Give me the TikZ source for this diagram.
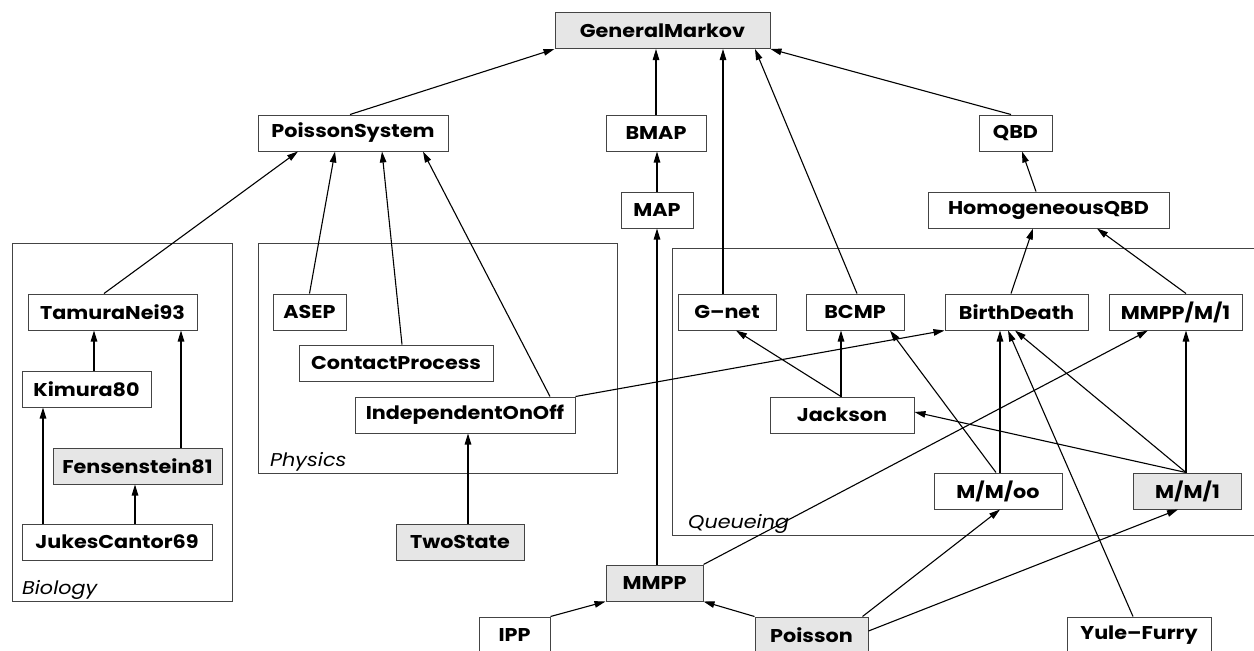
\documentclass[tikz,border=0pt]{standalone}
\usepackage{fontspec}
\setmainfont{Poppins}[FakeStretch=1.12]
\usetikzlibrary{arrows.meta}
\definecolor{nodegray}{HTML}{E6E6E6}
\definecolor{edgegray}{HTML}{444444}
\tikzset{
  box/.style={draw=edgegray, line width=1pt, minimum height=36pt, inner sep=0pt,
    font=\fontsize{18.5}{20}\selectfont\bfseries},
  gbox/.style={box, fill=nodegray},
  edge/.style={line width=1.1pt, -{Triangle[length=11pt,width=6.5pt]}},
  cluster/.style={draw=edgegray, line width=1pt},
  clabel/.style={font=\fontsize{18.5}{20}\selectfont\itshape, anchor=base west, inner sep=0pt}
}
\begin{document}
\begin{tikzpicture}[x=1pt,y=-1pt]
\useasboundingbox (0,0) rectangle (1254,651);
% clusters
\draw[cluster] (12,243) rectangle (232,601);
\draw[cluster] (258,243) rectangle (617,473);
\draw[cluster] (672,248) rectangle (1262,535);
\node[clabel] (lbio) at (22,594) {Biology};
\node[clabel] (lphy) at (270,466) {Physics};
\node[clabel] (lque) at (688,528) {Queueing};
% nodes
\node[gbox, minimum width=215pt] (gm) at (662.5,30.5) {GeneralMarkov};
\node[box, minimum width=190pt] (ps) at (353,133) {PoissonSystem};
\node[box, minimum width=100pt] (bmap) at (656,133) {BMAP};
\node[box, minimum width=73pt] (qbd) at (1015.5,133) {QBD};
\node[box, minimum width=72pt] (map) at (657,210) {MAP};
\node[box, minimum width=241pt] (hqbd) at (1048.5,210) {HomogeneousQBD};
\node[box, minimum width=169pt] (tamura) at (112.5,312) {TamuraNei93};
\node[box, minimum width=129pt] (kimura) at (86.5,389) {Kimura80};
\node[gbox, minimum width=169pt] (fens) at (137.5,466) {Fensenstein81};
\node[box, minimum width=190pt] (jukes) at (117,542) {JukesCantor69};
\node[box, minimum width=73pt] (asep) at (309.5,312) {ASEP};
\node[box, minimum width=194pt] (contact) at (396,363) {ContactProcess};
\node[box, minimum width=220pt] (ioo) at (465,415) {IndependentOnOff};
\node[gbox, minimum width=128pt] (twostate) at (460,542) {TwoState};
\node[box, minimum width=98pt] (gnet) at (727,312) {G\textendash net};
\node[box, minimum width=98pt] (bcmp) at (855,312) {BCMP};
\node[box, minimum width=143pt] (bd) at (1016.5,312) {BirthDeath};
\node[box, minimum width=133pt] (mmppm1) at (1175.5,312) {MMPP/M/1};
\node[box, minimum width=144pt] (jackson) at (842,415) {Jackson};
\node[box, minimum width=128pt] (mmoo) at (998,491) {M/M/oo};
\node[gbox, minimum width=108pt] (mm1) at (1187.5,491) {M/M/1};
\node[gbox, minimum width=97pt] (mmpp) at (654.5,583) {MMPP};
\node[box, minimum width=71pt] (ipp) at (514.5,635) {IPP};
\node[gbox, minimum width=113pt] (poisson) at (811.5,635) {Poisson};
\node[box, minimum width=144pt] (yule) at (1139,635) {Yule\textendash Furry};
% edges
\draw[edge] ([xshift=-3pt]ps.north) -- (gm.south west);
\draw[edge] (bmap.north) -- (bmap.north |- gm.south);
\draw[edge] ([xshift=-4pt]gnet.north) -- ([xshift=-4pt]gnet.north |- gm.south);
\draw[edge] ([xshift=2pt]bcmp.north) -- ([xshift=92.5pt]gm.south);
\draw[edge] ([xshift=-4.5pt]qbd.north) -- (gm.south east);
\draw[edge] (map.north) -- (map.north |- bmap.south);
\draw[edge] ([xshift=2.5pt]mmpp.north) -- ([xshift=2.5pt]mmpp.north |- map.south);
\draw[edge] ([xshift=-12.5pt]hqbd.north) -- ([xshift=6.5pt]qbd.south);
\draw[edge] ([xshift=-5.5pt]bd.north) -- ([xshift=-15.5pt]hqbd.south);
\draw[edge] ([xshift=10.5pt]mmppm1.north) -- ([xshift=48.5pt]hqbd.south);
\draw[edge] ([xshift=-8.5pt]tamura.north) -- ([xshift=-55pt]ps.south);
\draw[edge] (asep.north) -- ([xshift=-18pt]ps.south);
\draw[edge] ([xshift=6pt]contact.north) -- ([xshift=29pt]ps.south);
\draw[edge] ([xshift=85pt]ioo.north) -- ([xshift=70pt]ps.south);
\draw[edge] ([xshift=7.5pt]kimura.north) -- ([xshift=7.5pt]kimura.north |- tamura.south);
\draw[edge] ([xshift=43.5pt]fens.north) -- ([xshift=43.5pt]fens.north |- tamura.south);
\draw[edge] ([xshift=-74pt]jukes.north) -- ([xshift=-74pt]jukes.north |- kimura.south);
\draw[edge] ([xshift=18pt]jukes.north) -- ([xshift=18pt]jukes.north |- fens.south);
\draw[edge] ([xshift=8pt]twostate.north) -- ([xshift=8pt]twostate.north |- ioo.south);
\draw[edge] (ioo.north east) -- (bd.south west);
\draw[edge] ([xshift=-1pt]jackson.north) -- ([xshift=9pt]gnet.south);
\draw[edge] ([xshift=-1pt]jackson.north) -- ([xshift=-1pt]jackson.north |- bcmp.south);
\draw[edge] ([xshift=-2pt]mmoo.north) -- ([xshift=35pt]bcmp.south);
\draw[edge] ([xshift=2pt]mmoo.north) -- ([xshift=2pt]mmoo.north |- bd.south);
\draw[edge] ([xshift=-1.5pt]mm1.north) -- ([xshift=-1.5pt]bd.south);
\draw[edge] ([xshift=-1.5pt]mm1.north) -- ([xshift=10.5pt]mmppm1.south);
\draw[edge] ([xshift=-1.5pt]mm1.north) -- ([yshift=3pt]jackson.east);
\draw[edge] (mmpp.north east) -- ([xshift=-27.5pt]mmppm1.south);
\draw[edge] ([xshift=-6pt]yule.north) -- ([xshift=-8.5pt]bd.south);
\draw[edge] (ipp.north east) -- (mmpp.south west);
\draw[edge] (poisson.north west) -- (mmpp.south east);
\draw[edge] ([xshift=-6pt]poisson.north east) -- ([xshift=2pt]mmoo.south);
\draw[edge] ([yshift=4pt]poisson.east) -- ([xshift=-9.5pt]mm1.south);
\end{tikzpicture}
\end{document}
